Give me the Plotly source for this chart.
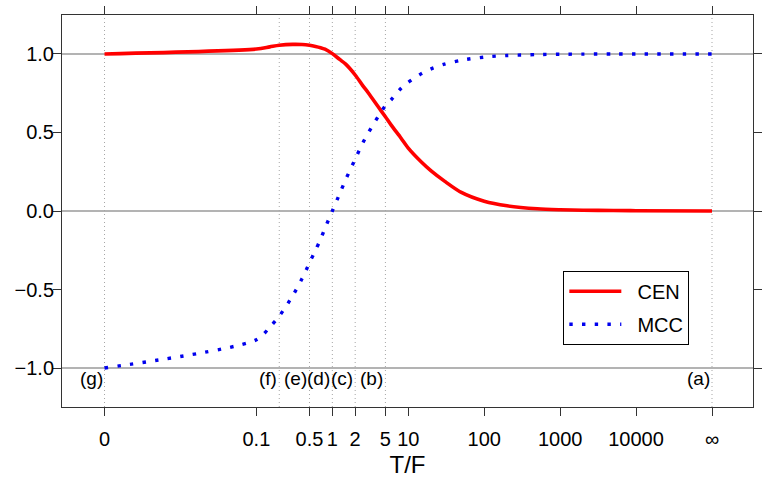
import numpy as np
import plotly.graph_objects as go

# ---- data (T/F ratio; 0 and infinity are shown at the axis ends) ----
tf = [0, 0.1, 0.15, 0.2, 0.3, 0.4, 0.5, 0.6, 0.7, 0.8, 1, 1.25, 1.5, 2, 2.5, 3, 4, 5, 6, 8,
      10, 15, 20, 30, 50, 100, 200, 500, 1000, 2000, 5000, 10000, np.inf]
cen = [1.000, 1.031, 1.045, 1.055, 1.061, 1.060, 1.055, 1.048, 1.040, 1.030, 1.002, 0.965,
       0.935, 0.866, 0.800, 0.750, 0.665, 0.600, 0.545, 0.465, 0.400, 0.310, 0.255, 0.190,
       0.118, 0.062, 0.033, 0.014, 0.008, 0.005, 0.003, 0.002, 0.000]
mcc = [-1.000, -0.820, -0.740, -0.670, -0.540, -0.430, -0.330, -0.250, -0.180, -0.110, 0.000,
       0.110, 0.200, 0.330, 0.430, 0.500, 0.600, 0.670, 0.710, 0.780, 0.820, 0.875, 0.905,
       0.935, 0.960, 0.980, 0.990, 0.996, 0.998, 0.999, 1.000, 1.000, 1.000]

tick_tf = [0, 0.1, 0.5, 1, 2, 5, 10, 100, 1000, 10000, np.inf]
tick_text = ['0', '0.1', '0.5', '1', '2', '5', '10', '100', '1000', '10000', '∞']

mark_tf = [np.inf, 5, 2, 1, 0.5, 0.2, 0]
mark_text = ['(a)', '(b)', '(c)', '(d)', '(e)', '(f)', '(g)']

y_ticks = [-1.0, -0.5, 0.0, 0.5, 1.0]
ref_levels = [-1.0, 0.0, 1.0]

ZERO_AT = 1e-3   # where T/F = 0 is drawn on the log axis
INF_AT = 1e5     # where T/F = infinity is drawn


def pos(r):
    if r == 0:
        return ZERO_AT
    if np.isinf(r):
        return INF_AT
    return r


x = [pos(r) for r in tf]

FONT = 'Liberation Sans, Arial, sans-serif'
PAD = '\u00a0\u00a0'

fig = go.Figure()

fig.add_trace(go.Scatter(x=x, y=cen, mode='lines', name=PAD + 'CEN', legendgroup='a',
                         line=dict(color='#ff0000', width=3.6, shape='spline', smoothing=0.8)))
fig.add_trace(go.Scatter(x=x, y=mcc, mode='lines', name=PAD + 'MCC', legendgroup='b',
                         line=dict(color='#0000ee', width=3.4, dash='3.4px,9.3px',
                                   shape='spline', smoothing=0.8)))

shapes = []
for lv in ref_levels:
    shapes.append(dict(type='line', xref='paper', yref='y', x0=0, x1=1, y0=lv, y1=lv,
                       line=dict(color='#9a9a9a', width=1.6), layer='below'))
for r in mark_tf:
    shapes.append(dict(type='line', xref='x', yref='paper', x0=pos(r), x1=pos(r), y0=0, y1=1,
                       line=dict(color='#a5a5a5', width=1, dash='1px,3px'), layer='below'))

annotations = []
for r, t in zip(mark_tf, mark_text):
    annotations.append(dict(x=np.log10(pos(r)), y=-1.0, xref='x', yref='y', text=t,
                            showarrow=False, xanchor='right', yanchor='top',
                            xshift=0, yshift=2,
                            font=dict(family=FONT, size=19, color='#000000')))

fig.update_layout(
    width=771, height=480,
    margin=dict(l=62, r=18, t=15, b=73, autoexpand=False),
    paper_bgcolor='white', plot_bgcolor='white',
    font=dict(family=FONT, size=20, color='#000000'),
    shapes=shapes, annotations=annotations,
    showlegend=True,
    legend=dict(x=0.7255, y=0.3477, xanchor='left', yanchor='top',
                bordercolor='#000000', borderwidth=1, bgcolor='white',
                font=dict(family=FONT, size=20), traceorder='grouped',
                tracegroupgap=4, itemwidth=52),
    xaxis=dict(type='log', range=[-3.56, 5.54], automargin=False,
               tickmode='array', tickvals=[pos(r) for r in tick_tf], ticktext=tick_text,
               ticks='outside', ticklen=8, tickcolor='#333333', tickwidth=1,
               ticklabelstandoff=6,
               showline=True, linecolor='#333333', linewidth=1, mirror='ticks',
               showgrid=False, zeroline=False,
               tickfont=dict(family=FONT, size=20),
               title=dict(text='T/F', font=dict(family=FONT, size=24), standoff=7)),
    yaxis=dict(range=[-1.248, 1.248], tickmode='array', tickvals=y_ticks, automargin=False,
               tickformat='.1f',
               ticks='outside', ticklen=8, tickcolor='#333333', tickwidth=1,
               ticklabelstandoff=-5,
               showline=True, linecolor='#333333', linewidth=1, mirror='ticks',
               showgrid=False, zeroline=False,
               tickfont=dict(family=FONT, size=20)),
)

fig.write_html('out.html', config={'displayModeBar': False},
               post_script="document.body.style.margin='0';document.body.style.overflow='hidden';")
